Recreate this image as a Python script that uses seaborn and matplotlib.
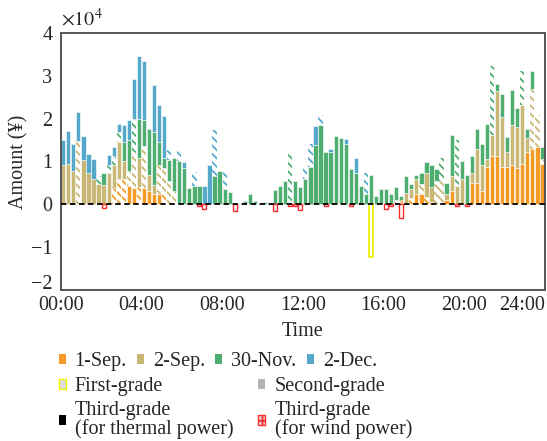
import numpy as np
import pandas as pd
import matplotlib
matplotlib.use("Agg")
import matplotlib.pyplot as plt
import matplotlib.transforms as mtrans
import seaborn as sns
from matplotlib.patches import Patch

# ---------------- data (unit: 1e4 yuan), 96 quarter-hour slots ----------------
slots = list(range(96))
time_ticks = ["00:00", "04:00", "08:00", "12:00", "16:00", "20:00", "24:00"]

sep1 = [0, 0, 0, 0, 0, 0, 0, 0, 0, 0, .38, .58, .6, .42, .38, .4,
        .38, .31, .23, .23, .3, 0, 0, 0, 0, 0, 0, 0, 0, 0, 0, 0,
        0, 0, 0, 0, 0, 0, 0, 0, 0, 0, 0, 0, 0, 0, 0, 0,
        0, 0, 0, 0, 0, 0, 0, 0, 0, 0, 0, 0, 0, 0, 0, 0,
        0, 0, 0, .1, 0, .15, .25, .25, .17, .05, 0, 0, .1, .32, 0, 0,
        0, .5, .5, .3, .86, 1.12, 1.12, .86, .86, .91, .85, .94, 1.21, 1.29, 1.33, .95]
sep2 = [.91, .93, .77, 1.48, 1.04, .72, .58, .48, .45, .73, .54, .88, .4, .35, .85, .68,
        .99, .38, .23, .69, .55, .54, .31, 0, 0, 0, 0, 0, 0, 0, 0, 0,
        0, 0, 0, 0, 0, 0, 0, 0, 0, 0, 0, 0, 0, 0, 0, 0,
        0, 0, 0, 0, 0, 0, 0, 0, 0, 0, 0, 0, 0, 0, 0, 0,
        0, 0, .1, 0, .27, .21, .33, .23, .56, .35, .55, .54, .15, .35, .42, .6,
        0, .23, .79, .62, .19, .51, 1.53, 1.19, .37, .94, .96, 1.39, .33, 1.4, .75, .1]
nov30 = [0, 0, 0, 0, 0, 0, 0, .17, .28, .19, .2, .23, .46, .73, .77, .92,
         .59, 1.08, 1.23, .54, .23, .5, .77, 1.0, .85, .38, .42, .42, 0, 0, .65, .77,
         .35, .28, 0, 0, .08, .23, .08, 0, .06, .04, .33, .42, .54, 1.17, .54, .4,
         .58, .86, 1.38, 1.86, 1.21, 1.23, 1.6, 1.56, 1.42, .83, .72, .42, .25, .69, .19, .35,
         .35, .23, .3, .09, .38, .12, .11, .24, .25, .52, .27, .55, .25, .96, 1.08, .4,
         .69, .4, .46, .5, .82, 1.6, .16, .53, .35, .83, .45, .79, .21, .43, 0, .3]
dec2 = [.59, .78, .64, .67, .55, .46, .47, 0, 0, .23, .21, .19, .39, .46, .92, 1.46,
        1.39, 0, 1.09, .86, .98, .23, 0, .27, .13, 0, .33, 0, .42, .92, 1.08, 0,
        .42, 0, 0, 0, 0, 0, 0, 0, 0, 0, 0, 0, 0, 0, 0, 0,
        .28, .54, .45, .23, 0, .06, 0, 0, .1, 0, .36, 0, .47, 0, 0, 0,
        0, 0, 0, 0, 0, 0, 0, 0, 0, 0, 0, 0, 0, 0, 0, 0,
        0, 0, 0, 0, 0, 0, 0, 0, 0, 0, 0, 0, 0, 0, 0, 0]

# slots whose segment belongs to the hatched (other-grade) part
sep1_hatched = [10, 11, 12, 15, 20, 67, 69, 72]
sep2_hatched = [3, 13, 14, 16, 19, 20, 21, 22, 66, 71, 74, 75, 93, 94, 95]
nov30_hatched = [7, 9, 10, 11, 14, 45, 75, 78, 85, 91]
dec2_hatched = [21, 23, 26, 30, 32, 48, 49, 51, 60]

# negative amounts
wind_slots = [8, 27, 28, 34, 42, 45, 46, 47, 52, 57, 64, 65, 67, 78, 80]
wind_vals = [-.08, -.03, -.12, -.15, -.15, -.03, -.04, -.14, -.03, -.03, -.1, -.04, -.31, -.04, -.04]
first_slots = [61]
first_vals = [-1.23]

series_names = ["1-Sep.", "2-Sep.", "30-Nov.", "2-Dec."]
colors = ["#F59B23", "#C8B775", "#4DAE6F", "#56A8CA"]

# ---------------- style ----------------
sns.set_style("white")
plt.rcParams["font.family"] = ["Liberation Serif", "DejaVu Serif"]
plt.rcParams["mathtext.fontset"] = "stix"
plt.rcParams["hatch.linewidth"] = 1.3
FS = 14.5

fig = plt.figure(figsize=(5.47, 4.41), dpi=100)
ax = fig.add_axes([0.111, 0.3424, 0.8853, 0.5828])

W = 0.84
x = np.array(slots)
bottom = np.zeros(len(x))
layers = [(sep1, sep1_hatched, colors[0]), (sep2, sep2_hatched, colors[1]),
          (nov30, nov30_hatched, colors[2]), (dec2, dec2_hatched, colors[3])]
for vals, hatched, col in layers:
    v = np.array(vals, dtype=float)
    hmask = np.isin(x, hatched)
    for is_hatch in (False, True):
        sel = (v > 0) & (hmask == is_hatch)
        if not sel.any():
            continue
        df = pd.DataFrame({"slot": x[sel], "amount": v[sel]})
        if is_hatch:
            sns.barplot(data=df, x="slot", y="amount", order=slots, bottom=bottom[sel],
                        width=W, errorbar=None, saturation=1, color=col, facecolor="white",
                        edgecolor=col, hatch="\\\\\\\\", linewidth=0, ax=ax)
        else:
            sns.barplot(data=df, x="slot", y="amount", order=slots, bottom=bottom[sel],
                        width=W, errorbar=None, saturation=1, color=col,
                        edgecolor="white", linewidth=0.4, ax=ax)
    bottom += v

sns.barplot(x=wind_slots, y=wind_vals, order=slots, width=0.8, errorbar=None,
            saturation=1, color="white", edgecolor="#FF2A2A", linewidth=1.0, ax=ax)
sns.barplot(x=first_slots, y=first_vals, order=slots, width=0.8, errorbar=None,
            saturation=1, color="#FFFFF2", edgecolor="#EEEE00", linewidth=1.2, ax=ax)

ax.axhline(0, color="black", lw=1.3, ls=(0, (3, 2)), zorder=5)

ax.set_xlim(-0.5, 95.5)
ax.set_ylim(-2, 4)
ax.set_yticks([-2, -1, 0, 1, 2, 3, 4])
ax.set_yticklabels(["\u22122", "\u22121", "0", "1", "2", "3", "4"], fontsize=FS)
ax.set_xticks([-0.5 + 16 * i for i in range(7)])
ax.set_xticklabels(time_ticks, fontsize=FS)
ax.get_xticklabels()[-1].set_ha("right")
ax.tick_params(axis="both", length=0)
ax.tick_params(axis="y", pad=6)
ax.tick_params(axis="x", pad=4)
low_lab = ax.yaxis.get_major_ticks()[0].label1
low_lab.set_transform(low_lab.get_transform()
                      + mtrans.ScaledTranslation(0, 8 / 100, fig.dpi_scale_trans))
for s in ax.spines.values():
    s.set_color("#555555")
    s.set_linewidth(1.4)
ax.set_xlabel("Time", fontsize=FS, labelpad=5)
ax.set_ylabel("Amount (\u00a5)", fontsize=FS, labelpad=2)
ax.text(0.0, 1.01, r"$\times10^{4}$", transform=ax.transAxes, ha="left", va="bottom",
        fontsize=FS)

# ---------------- legends ----------------
h1 = [Patch(facecolor=c, edgecolor="none") for c in colors]
leg1 = fig.legend(h1, series_names, loc="upper left", bbox_to_anchor=(58.5 / 547, 1 - 352 / 441),
                  ncol=4, frameon=False, fontsize=FS, borderpad=0, borderaxespad=0,
                  handlelength=0.35, handleheight=0.35, handletextpad=0.45, columnspacing=0.5)
h2 = [Patch(facecolor="#DDDDDD", edgecolor="#F5F500", linewidth=1),
      Patch(facecolor="black", edgecolor="none"),
      Patch(facecolor="#B4B4B4", edgecolor="none"),
      Patch(facecolor="#DDDDDD", edgecolor="#FF2A2A", hatch="++", linewidth=1)]
l2 = ["First-grade", "Third-grade\n(for thermal power)", "Second-grade",
      "Third-grade\n(for wind power)"]
leg2 = fig.legend(h2, l2, loc="upper left", bbox_to_anchor=(58.5 / 547, 1 - 377 / 441),
                  ncol=2, frameon=False, fontsize=FS, borderpad=0, borderaxespad=0,
                  handlelength=0.35, handleheight=0.35, handletextpad=0.45, columnspacing=1.25,
                  labelspacing=0.25)
for t in leg2.get_texts():
    t.set_linespacing(0.95)

fig.savefig("out.png", dpi=100)
